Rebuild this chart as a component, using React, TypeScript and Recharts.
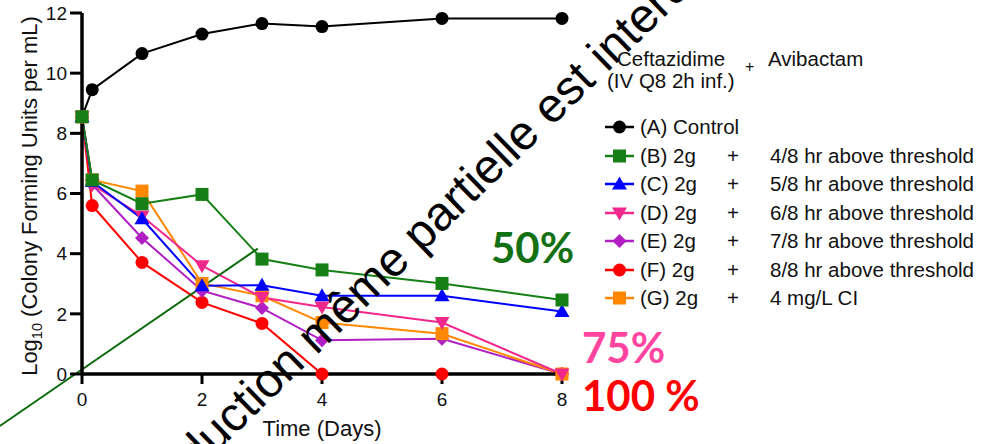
import { LineChart, Line, XAxis, YAxis, ReferenceLine, Label } from "recharts";

// sampling times (days) and log10 CFU/mL per regimen
const days = [0, 0.17, 1, 2, 3, 4, 6, 8];
const controlA = [8.55, 9.45, 10.65, 11.3, 11.65, 11.55, 11.82, 11.82];
const regimenB = [8.55, 6.45, 5.66, 5.97, 3.82, 3.46, 3.01, 2.46];
const regimenC = [8.55, 6.4, 5.16, 2.93, 2.95, 2.6, 2.6, 2.08];
const regimenD = [8.55, 6.3, 5.25, 3.6, 2.54, 2.23, 1.71, 0];
const regimenE = [8.55, 6.3, 4.52, 2.77, 2.19, 1.12, 1.17, 0];
const regimenF = [8.55, 5.6, 3.71, 2.38, 1.68, 0, 0, 0];
const regimenG = [8.55, 6.45, 6.08, 3.01, 2.6, 1.71, 1.34, 0];

const xTicks = [0, 2, 4, 6, 8];
const yTicks = [0, 2, 4, 6, 8, 10, 12];

const legendNames = ["(A) Control", "(B) 2g", "(C) 2g", "(D) 2g", "(E) 2g", "(F) 2g", "(G) 2g"];
const legendDetails = [
  "",
  "4/8 hr above threshold",
  "5/8 hr above threshold",
  "6/8 hr above threshold",
  "7/8 hr above threshold",
  "8/8 hr above threshold",
  "4 mg/L CI",
];

// green guide line drawn over the plot (in data units)
const guideLine = [
  { x: -1.37, y: -1.73 },
  { x: 2.93, y: 4.17 },
];

type Shape = "circle" | "square" | "triUp" | "triDown" | "diamond";

const series: { key: string; values: number[]; color: string; shape: Shape }[] = [
  { key: "A", values: controlA, color: "#000000", shape: "circle" },
  { key: "B", values: regimenB, color: "#168016", shape: "square" },
  { key: "C", values: regimenC, color: "#0000ff", shape: "triUp" },
  { key: "D", values: regimenD, color: "#f0288c", shape: "triDown" },
  { key: "E", values: regimenE, color: "#b01ec4", shape: "diamond" },
  { key: "F", values: regimenF, color: "#ff0000", shape: "circle" },
  { key: "G", values: regimenG, color: "#ff8800", shape: "square" },
];

// draw order so green ends on top, control underneath
const drawOrder = ["A", "F", "E", "G", "D", "C", "B"];

const data = days.map((day, i) => {
  const row: Record<string, number> = { day };
  series.forEach((s) => (row[s.key] = s.values[i]));
  return row;
});

const FONT = "'Liberation Sans', Arial, sans-serif";

function Marker({ shape, cx, cy, color }: { shape: Shape; cx: number; cy: number; color: string }) {
  if (shape === "circle") return <circle cx={cx} cy={cy} r={6.5} fill={color} />;
  if (shape === "square") return <rect x={cx - 6.5} y={cy - 6.5} width={13} height={13} fill={color} />;
  if (shape === "triUp")
    return <polygon points={`${cx},${cy - 7.5} ${cx + 7.5},${cy + 5.5} ${cx - 7.5},${cy + 5.5}`} fill={color} />;
  if (shape === "triDown")
    return <polygon points={`${cx},${cy + 7.5} ${cx + 7.5},${cy - 5.5} ${cx - 7.5},${cy - 5.5}`} fill={color} />;
  return <polygon points={`${cx},${cy - 7} ${cx + 7},${cy} ${cx},${cy + 7} ${cx - 7},${cy}`} fill={color} />;
}

const renderYLabel = () => (
  <text
    x={37}
    y={196}
    transform="rotate(-90, 37, 196)"
    textAnchor="middle"
    fontFamily={FONT}
    fontSize={22}
    fill="#111"
  >
    Log<tspan fontSize={14.5} dy={5}>10</tspan>
    <tspan dy={-5}> (Colony Forming Units per mL)</tspan>
  </text>
);

export default function App() {
  return (
    <div style={{ position: "absolute", left: 0, top: 0, width: 985, height: 444, background: "#fff" }}>
      <LineChart width={985} height={444} data={data} margin={{ top: 13, right: 423, left: 0, bottom: 40 }}>
        <XAxis
          type="number"
          dataKey="day"
          domain={[0, 8]}
          ticks={xTicks}
          interval={0}
          axisLine={{ stroke: "#000", strokeWidth: 3.5 }}
          tickLine={{ stroke: "#000", strokeWidth: 3 }}
          tickSize={10}
          tickMargin={9}
          height={30}
          tick={{ fill: "#111", fontSize: 19, fontFamily: FONT }}
        />
        <YAxis
          type="number"
          domain={[0, 12]}
          ticks={yTicks}
          interval={0}
          width={82}
          axisLine={{ stroke: "#000", strokeWidth: 3.5 }}
          tickLine={{ stroke: "#000", strokeWidth: 3 }}
          tickSize={12}
          tickMargin={3}
          tick={{ fill: "#111", fontSize: 19, fontFamily: FONT }}
        >
          <Label content={renderYLabel} />
        </YAxis>
        {drawOrder.map((k) => {
          const s = series.find((x) => x.key === k)!;
          return (
            <Line
              key={k}
              dataKey={k}
              stroke={s.color}
              strokeWidth={2}
              isAnimationActive={false}
              dot={(p: any) => <Marker key={`${k}-${p.index}`} shape={s.shape} cx={p.cx} cy={p.cy} color={s.color} />}
              activeDot={false}
            />
          );
        })}
        <ReferenceLine segment={guideLine} stroke="#0a6a0a" strokeWidth={2} ifOverflow="visible" />
      </LineChart>

      {/* overlay: axis title, annotations, watermark */}
      <svg width={985} height={444} style={{ position: "absolute", left: 0, top: 0, pointerEvents: "none" }}>
        <text x={322} y={436} textAnchor="middle" fontFamily={FONT} fontSize={22} fill="#111">
          Time (Days)
        </text>
        <text x={491} y={263} fontFamily="Lato, 'Open Sans', sans-serif" fontWeight={700} fontSize={42} fill="#137013">
          50%
        </text>
        <text x={582} y={363} fontFamily="Lato, 'Open Sans', sans-serif" fontWeight={700} fontSize={42} fill="#ff45a0">
          75%
        </text>
        <text x={582} y={411} fontFamily="Lato, 'Open Sans', sans-serif" fontWeight={700} fontSize={42} fill="#ff0000">
          100 %
        </text>
        <text
          x={102}
          y={564}
          transform="rotate(-44.2, 102, 564)"
          fontFamily={FONT}
          fontSize={48}
          fill="#000"
        >
          Reproduction même partielle est interdite
        </text>
      </svg>

      {/* legend */}
      <div style={{ position: "absolute", left: 0, top: 0, fontFamily: FONT, fontSize: 20.5, color: "#111" }}>
        <div style={{ position: "absolute", left: 617, top: 47, whiteSpace: "nowrap" }}>Ceftazidime</div>
        <div style={{ position: "absolute", left: 607, top: 69, whiteSpace: "nowrap" }}>(IV Q8 2h inf.)</div>
        <div style={{ position: "absolute", left: 745, top: 58, fontSize: 16 }}>+</div>
        <div style={{ position: "absolute", left: 768, top: 47, whiteSpace: "nowrap" }}>Avibactam</div>
        {series.map((s, i) => {
          const cy = 127 + i * 28.5;
          return (
            <div key={s.key} style={{ position: "absolute", left: 604, top: cy - 12, height: 24, whiteSpace: "nowrap" }}>
              <svg width={32} height={24} style={{ position: "absolute", left: 0, top: 0 }}>
                <line x1={1} y1={12} x2={30} y2={12} stroke={s.color} strokeWidth={2.5} />
                <Marker shape={s.shape} cx={15.5} cy={12} color={s.color} />
              </svg>
              <span style={{ position: "absolute", left: 36, top: 0, lineHeight: "24px" }}>{legendNames[i]}</span>
              {legendDetails[i] && (
                <>
                  <span style={{ position: "absolute", left: 123, top: 0, lineHeight: "24px" }}>+</span>
                  <span style={{ position: "absolute", left: 166, top: 0, lineHeight: "24px" }}>{legendDetails[i]}</span>
                </>
              )}
            </div>
          );
        })}
      </div>
    </div>
  );
}
